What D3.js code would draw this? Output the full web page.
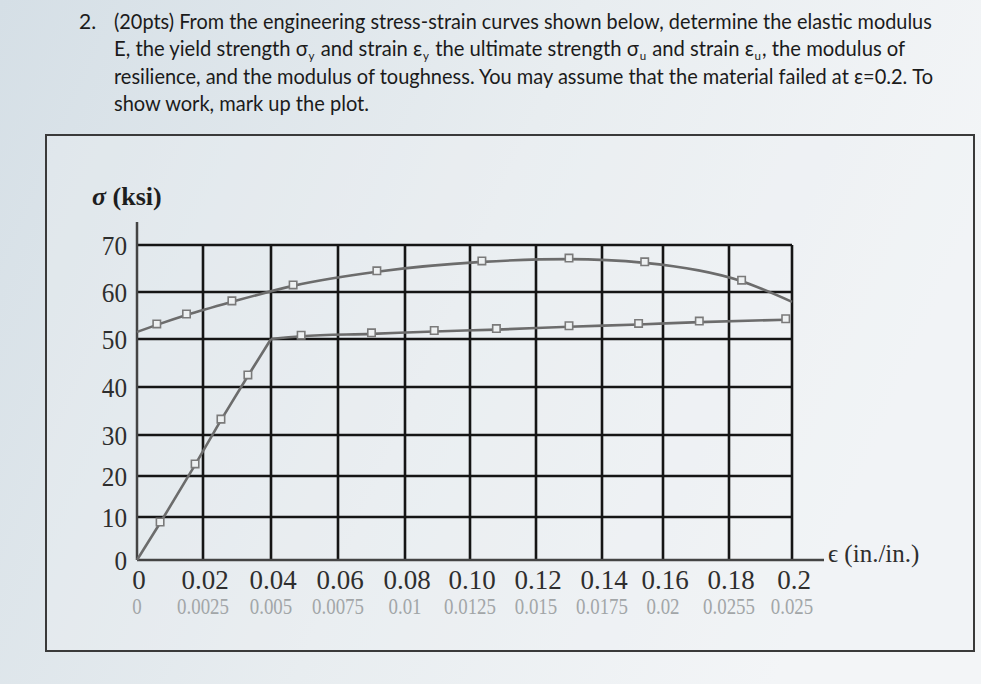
<!DOCTYPE html>
<html><head><meta charset="utf-8">
<script src="https://cdnjs.cloudflare.com/ajax/libs/d3/7.8.5/d3.min.js"></script>
<style>html,body{margin:0;padding:0;background:#eaeff2;overflow:hidden}</style>
</head><body>
<svg id="c" width="981" height="684"></svg>
<script>
// ---- data ----
const strainTicks = [0, 0.02, 0.04, 0.06, 0.08, 0.10, 0.12, 0.14, 0.16, 0.18, 0.2];
const strainTickLabels = ["0","0.02","0.04","0.06","0.08","0.10","0.12","0.14","0.16","0.18","0.2"];
const smallStrainTicks = [0, 0.0025, 0.005, 0.0075, 0.01, 0.0125, 0.015, 0.0175, 0.02, 0.0225, 0.025];
const smallStrainTickLabels = ["0","0.0025","0.005","0.0075","0.01","0.0125","0.015","0.0175","0.02","0.0255","0.025"];
const stressTicks = [0, 10, 20, 30, 40, 50, 60, 70];
const stressTickLabels = ["0","10","20","30","40","50","60","70"];

// elastic portion (plotted on the small-strain axis)
const elasticStrain = [0, 0.000875, 0.0022, 0.00316, 0.00415, 0.005];
const elasticStress = [0, 8.6, 22.7, 33.1, 42.3, 50];
const elasticMarked = [false, true, true, true, true, false];
// upper curve
const upperStrain = [0, 0.006, 0.015, 0.0285, 0.0466, 0.0716, 0.1036, 0.13, 0.154, 0.184, 0.2];
const upperStress = [51.5, 53, 55.1, 57.9, 61.3, 64.3, 66.4, 67, 66.2, 62.3, 57.9];
const upperMarked = [false, true, true, true, true, true, true, true, true, true, false];
// lower (plateau) curve
const lowerStrain = [0.04, 0.049, 0.07, 0.089, 0.108, 0.13, 0.152, 0.171, 0.198];
const lowerStress = [50, 50.6, 51.1, 51.6, 52.0, 52.6, 53.1, 53.6, 54.1];
const lowerMarked = [false, true, true, true, true, true, true, true, true];

// ---- layout ----
const svg = d3.select("#c");
const defs = svg.append("defs");
const g0 = defs.append("linearGradient").attr("id","bg").attr("x1","0").attr("x2","1").attr("y1","0").attr("y2","0.3");
g0.append("stop").attr("offset","0").attr("stop-color","#d5dfe6");
g0.append("stop").attr("offset","0.55").attr("stop-color","#e8edf0");
g0.append("stop").attr("offset","1").attr("stop-color","#f3f5f7");
svg.append("rect").attr("width",981).attr("height",684).attr("fill","url(#bg)");

// header text: each line is a row of text pieces, squeezed to the reference width
const headerFont = "Lato, 'Open Sans', sans-serif";
function headerLine(y, x, len, parts){
  const g = svg.append("g");
  let cx = 0;
  parts.forEach(p=>{
    const isSub = Array.isArray(p);
    const t = g.append("text").attr("x",cx).attr("y", isSub ? 4 : 0)
      .attr("font-family",headerFont).attr("font-size", isSub ? 12 : 21)
      .attr("fill","#1b1b1b").style("white-space","pre")
      .text(isSub ? p[0] : p);
    cx += t.node().getComputedTextLength() + (isSub ? 1 : 0.8);
  });
  g.attr("transform",`translate(${x},${y}) scale(${len/cx},1)`);
}
svg.append("text").attr("x",79).attr("y",29).attr("font-family",headerFont).attr("font-size",21).attr("fill","#1b1b1b").text("2.");
headerLine(29,114,819,["(20pts) From the engineering stress-strain curves shown below, determine the elastic modulus"]);
headerLine(56,114,792,["E, the yield strength σ",["y"],"\u00A0and strain ε",["y"],"\u00A0the ultimate strength σ",["u"],"\u00A0and strain ε",["u"],", the modulus of"]);
headerLine(84,114,820,["resilience, and the modulus of toughness. You may assume that the material failed at ε=0.2. To"]);
headerLine(111,114,256,["show work, mark up the plot."]);

// frame
svg.append("rect").attr("x",46).attr("y",135).attr("width",928).attr("height",516)
  .attr("fill","#edf1f3").attr("fill-opacity",0.35).attr("stroke","#3a3a3a").attr("stroke-width",2);

// scales (the photographed grid is slightly uneven, so piecewise)
const x = d3.scaleLinear().domain(strainTicks).range([137,203,271,338,405,470,536,602,663,729,792]);
const xs = d3.scaleLinear().domain(smallStrainTicks).range(x.range());
const y = d3.scaleLinear().domain(stressTicks).range([560,517,476,435,387,339,292,245]);

const serif = "'Liberation Serif','Times New Roman',serif";
// grid
const grid = svg.append("g");
grid.selectAll("line.h").data(stressTicks.slice(1)).join("line")
  .attr("x1",x(0)).attr("x2",x(0.2)).attr("y1",d=>y(d)).attr("y2",d=>y(d))
  .attr("stroke","#151515").attr("stroke-width",2.6);
grid.selectAll("line.v").data(strainTicks.slice(1)).join("line")
  .attr("x1",d=>x(d)).attr("x2",d=>x(d)).attr("y1",y(0)).attr("y2",y(70))
  .attr("stroke","#151515").attr("stroke-width",2.6);

// axes
svg.append("line").attr("x1",x(0)).attr("x2",x(0)).attr("y1",y(0)).attr("y2",222)
  .attr("stroke","#444").attr("stroke-width",2.5);
svg.append("line").attr("x1",x(0)).attr("x2",824).attr("y1",y(0)).attr("y2",y(0))
  .attr("stroke","#444").attr("stroke-width",2.5);

// y tick labels
svg.append("g").selectAll("text").data(stressTicks).join("text")
  .attr("x",127).attr("y",d=>y(d)+10).attr("text-anchor","end")
  .attr("font-family",serif).attr("font-size",28).attr("fill","#2e2e2e")
  .text((d,i)=>stressTickLabels[i])
  .each(function(){ const w=this.getComputedTextLength(); d3.select(this).attr("textLength",w*0.9).attr("lengthAdjust","spacingAndGlyphs"); });
// x tick labels
svg.append("g").selectAll("text").data(strainTicks).join("text")
  .attr("x",d=>x(d)+2).attr("y",589).attr("text-anchor","middle")
  .attr("font-family",serif).attr("font-size",27).attr("fill","#2e2e2e")
  .text((d,i)=>strainTickLabels[i]);
svg.append("g").selectAll("text").data(smallStrainTicks).join("text")
  .attr("x",d=>xs(d)).attr("y",614).attr("text-anchor","middle")
  .attr("font-family",serif).attr("font-size",23).attr("fill","#a2a6a8")
  .text((d,i)=>smallStrainTickLabels[i])
  .each(function(){ const w=this.getComputedTextLength(); d3.select(this).attr("textLength",w*0.82).attr("lengthAdjust","spacingAndGlyphs"); });

// axis titles
const yt = svg.append("text").attr("x",92).attr("y",205).attr("font-family",serif)
  .attr("font-size",26).attr("fill","#1e1e1e").attr("font-weight","bold");
yt.append("tspan").attr("font-style","italic").text("σ");
yt.append("tspan").text(" (ksi)");
svg.append("text").attr("x",828).attr("y",562).attr("font-family",serif)
  .attr("font-size",25).attr("fill","#2e2e2e").text("ϵ (in./in.)");

// curves
const lineCol = "#6c6c6c";
function drawCurve(xsArr, ysArr, marks, sx, curve){
  const pts = xsArr.map((v,i)=>({x:v,y:ysArr[i],m:marks[i]}));
  svg.append("path").datum(pts)
    .attr("d", d3.line().x(d=>sx(d.x)).y(d=>y(d.y)).curve(curve))
    .attr("fill","none").attr("stroke",lineCol).attr("stroke-width",2.6);
  svg.append("g").selectAll("path").data(pts.filter(d=>d.m)).join("path")
    .attr("transform",d=>`translate(${sx(d.x)},${y(d.y)-1})`)
    .attr("d", d3.symbol(d3.symbolSquare, 55))
    .attr("fill","#eef1f2").attr("stroke","#7a7a7a").attr("stroke-width",1.6);
}
drawCurve(elasticStrain, elasticStress, elasticMarked, xs, d3.curveLinear);
drawCurve(lowerStrain, lowerStress, lowerMarked, x, d3.curveMonotoneX);
drawCurve(upperStrain, upperStress, upperMarked, x, d3.curveMonotoneX);
</script>
</body></html>
